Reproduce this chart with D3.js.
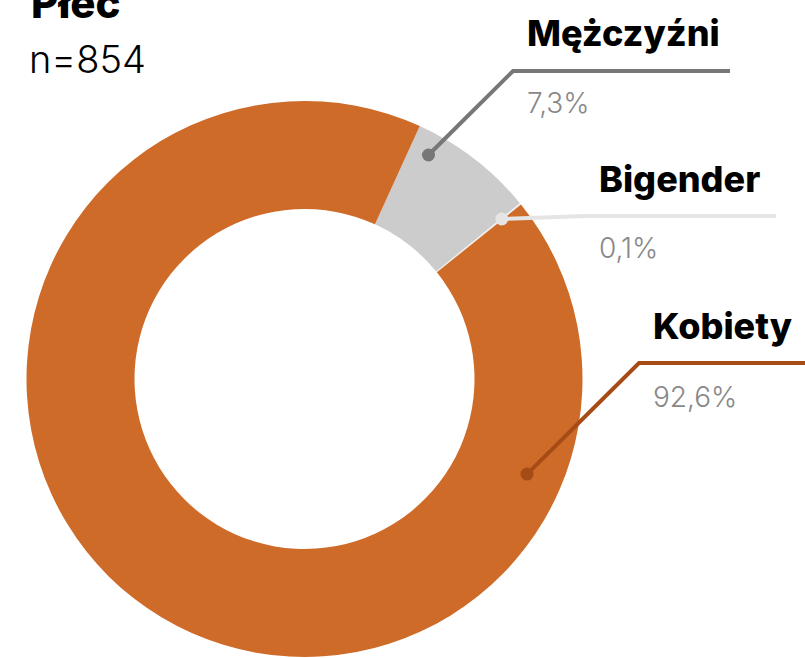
<!DOCTYPE html>
<html>
<head>
<meta charset="utf-8">
<script src="https://cdn.jsdelivr.net/npm/d3@7"></script>
<style>
  body { margin: 0; background: #fff; }
  svg { display: block; font-family: Inter, "Noto Sans", sans-serif; }
</style>
</head>
<body>
<div id="chart-area"></div>
<script>
// data
var categories = ["Mężczyźni", "Bigender", "Kobiety"];
var values = [7.3, 0.1, 92.6];
var sliceColors = ["#cccccc", "#eeeeee", "#cf6b29"];
var lineColors = ["#777777", "#e5e5e5", "#a64b16"];
var title = "Płeć";
var subtitle = "n=854";

var width = 805, height = 658;
var cx = 304.5, cy = 379;
var outerR = 278, innerR = 170;

var svg = d3.select("#chart-area").append("svg")
    .attr("width", width)
    .attr("height", height);

var data = categories.map(function (c, i) {
    return {name: c, value: values[i], fill: sliceColors[i], line: lineColors[i]};
});

var start = 24.5 * Math.PI / 180;
var pie = d3.pie()
    .sort(null)
    .value(function (d) { return d.value; })
    .startAngle(start)
    .endAngle(start + 2 * Math.PI);

var arc = d3.arc().innerRadius(innerR).outerRadius(outerR);

var g = svg.append("g")
    .attr("transform", "translate(" + cx + "," + cy + ")");

var arcs = pie(data);

g.selectAll("path.slice")
    .data(arcs)
    .enter()
    .append("path")
    .attr("class", "slice")
    .attr("d", arc)
    .attr("fill", function (d) { return d.data.fill; });

// annotation layout: where the dot sits (share of the slice, radius), elbow and label spot
var labelLayout = [
    {t: 0.17, r: 256, elbow: [513, 71], end: 730, lx: 527, nameY: 46, pctY: 113},
    {t: 0.5, r: 254, elbow: [585, 216], end: 776, lx: 599, nameY: 192, pctY: 258},
    {t: 0.186, r: 242, elbow: [639, 363], end: 805, lx: 653, nameY: 339, pctY: 407}
];

var fmt = function (v) { return d3.format(".1f")(v).replace(".", ",") + "%"; };

var ann = svg.append("g").attr("class", "annotations");

arcs.forEach(function (d, i) {
    var L = labelLayout[i];
    var a = d.startAngle + (d.endAngle - d.startAngle) * L.t;
    var px = cx + L.r * Math.sin(a);
    var py = cy - L.r * Math.cos(a);

    ann.append("polyline")
        .attr("points", [[px, py], L.elbow, [L.end, L.elbow[1]]].map(function (p) { return p.join(","); }).join(" "))
        .attr("fill", "none")
        .attr("stroke", d.data.line)
        .attr("stroke-width", 4);

    ann.append("circle")
        .attr("cx", px)
        .attr("cy", py)
        .attr("r", 6.5)
        .attr("fill", d.data.line);

    ann.append("text")
        .attr("x", L.lx)
        .attr("y", L.nameY)
        .attr("font-size", "36px")
        .attr("font-weight", 800)
        .attr("fill", "#000")
        .text(d.data.name);

    ann.append("text")
        .attr("x", L.lx)
        .attr("y", L.pctY)
        .attr("font-size", "28px")
        .attr("font-weight", 300)
        .attr("fill", "#888")
        .text(fmt(d.data.value));
});

svg.append("text")
    .attr("x", 31)
    .attr("y", 18)
    .attr("font-size", "42px")
    .attr("font-weight", 800)
    .attr("fill", "#000")
    .text(title);

svg.append("text")
    .attr("x", 29)
    .attr("y", 73)
    .attr("font-size", "38px")
    .attr("font-weight", 300)
    .attr("fill", "#000")
    .text(subtitle);
</script>
</body>
</html>
